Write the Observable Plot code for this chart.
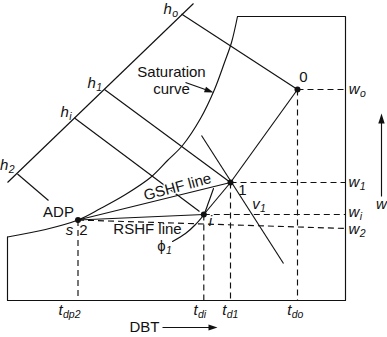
<!DOCTYPE html>
<html>
<head>
<meta charset="utf-8">
<script src="https://cdn.jsdelivr.net/npm/d3@7"></script>
<script src="https://cdn.jsdelivr.net/npm/@observablehq/plot@0.6"></script>
<style>
  html, body { margin: 0; padding: 0; background: #fff; }
</style>
</head>
<body>
<div id="chart"></div>
<script>
// Diagram units: x = DBT (from the left edge of the chart box), y = w (up from the bottom edge)
const states = [
  {name: "0", x: 290, y: 211},
  {name: "1", x: 223, y: 118},
  {name: "i", x: 196.3, y: 86},
  {name: "2", x: 70.5, y: 80.5}
];

const saturationCurve = [
  {x: 0, y: 63.5}, {x: 38, y: 71}, {x: 70.5, y: 80.5}, {x: 93, y: 92},
  {x: 118, y: 106}, {x: 143, y: 123}, {x: 160, y: 140}, {x: 175, y: 155},
  {x: 193, y: 182}, {x: 207, y: 211}, {x: 217, y: 238}, {x: 224, y: 258},
  {x: 230, y: 284}
];

const chartBox = [
  {x: 0, y: 63.5}, {x: 0, y: 0}, {x: 338, y: 0}, {x: 338, y: 284}, {x: 230, y: 284}
];

const enthalpyAxis = [{x1: 0, y1: 118, x2: 186, y2: 297}];

const enthalpyLines = [
  {name: "h_o", x1: 174, y1: 286.5, x2: 290, y2: 211},
  {name: "h_1", x1: 97, y1: 211, x2: 223, y2: 118},
  {name: "h_i", x1: 67, y1: 182.5, x2: 192, y2: 89},
  {name: "h_2", x1: 10, y1: 126.5, x2: 41, y2: 100}
];

const processLines = [
  {name: "GSHF", x1: 70.5, y1: 80.5, x2: 223, y2: 118},
  {name: "RSHF", x1: 70.5, y1: 80.5, x2: 196.3, y2: 86},
  {name: "0-1", x1: 290, y1: 211, x2: 223, y2: 118},
  {name: "1-i", x1: 223, y1: 118, x2: 196.3, y2: 86},
  {name: "v1", x1: 194, y1: 165, x2: 276, y2: 37}
];

const rhCurve = [
  {x: 165, y: 59}, {x: 178, y: 67}, {x: 188, y: 76}, {x: 196.3, y: 86},
  {x: 201, y: 98}, {x: 206, y: 112}
];

const humidityLevels = [
  {name: "w_o", x1: 290, y1: 211, x2: 338, y2: 211},
  {name: "w_1", x1: 223, y1: 118, x2: 338, y2: 118},
  {name: "w_i", x1: 196.3, y1: 86, x2: 338, y2: 86},
  {name: "w_2", x1: 70.5, y1: 80.5, x2: 338, y2: 72}
];

const dbtLevels = [
  {name: "t_dp2", x: 70.5, y: 80.5},
  {name: "t_di", x: 196.3, y: 86},
  {name: "t_d1", x: 223, y: 118},
  {name: "t_do", x: 290, y: 211}
];

const arrows = [
  {name: "saturation", x1: 178, y1: 218, x2: 206, y2: 208},
  {name: "w", x1: 374, y1: 104, x2: 374, y2: 187},
  {name: "DBT", x1: 155, y1: -27, x2: 210, y2: -27}
];

const plainLabels = [
  {text: "Saturation", x: 164, y: 228},
  {text: "curve", x: 164, y: 211},
  {text: "0", x: 296, y: 223},
  {text: "1", x: 235, y: 110},
  {text: "ADP", x: 51, y: 88},
  {text: "2", x: 76, y: 70},
  {text: "RSHF line", x: 140, y: 71},
  {text: "DBT", x: 137, y: -27}
];

const italicLabels = [
  {text: "i", x: 203, y: 79},
  {text: "s", x: 62, y: 70},
  {text: "w", x: 374, y: 96}
];

const gshfLabel = [{text: "GSHF line", x: 170, y: 113.5}];

const subscriptLabels = [
  {base: "h", sub: "o", x: 156, y: 291.5},
  {base: "h", sub: "1", x: 80, y: 217},
  {base: "h", sub: "i", x: 53, y: 188},
  {base: "h", sub: "2", x: -7.5, y: 135},
  {base: "v", sub: "1", x: 244.7, y: 96},
  {base: "\u03D5", sub: "1", x: 149.7, y: 54, upright: true},
  {base: "w", sub: "o", x: 341.3, y: 211},
  {base: "w", sub: "1", x: 341, y: 118},
  {base: "w", sub: "i", x: 341, y: 88},
  {base: "w", sub: "2", x: 341, y: 71},
  {base: "t", sub: "dp2", x: 51, y: -10},
  {base: "t", sub: "di", x: 186, y: -10},
  {base: "t", sub: "d1", x: 214.7, y: -10},
  {base: "t", sub: "do", x: 279.7, y: -10}
];

// ---------- rendering ----------
const FONT = "'Liberation Sans', Arial, Helvetica, sans-serif";
const BIG = 15, SMALL = 10.5;
const INK = "#111";
const SW = 1.15;

const canvas = document.createElement("canvas");
const ctx2 = canvas.getContext("2d");
function measure(str, italic, size) {
  ctx2.font = `${italic ? "italic " : ""}${size}px ${FONT}`;
  return ctx2.measureText(str).width;
}
const subBase = subscriptLabels.map(d => ({...d}));
const subSub = subscriptLabels.map(d => ({
  text: d.sub,
  x: d.x + measure(d.base, !d.upright, BIG) + 0.3,
  y: d.y - 4.5
}));

function arrowHead(dx, dy, len = 9, half = 3) {
  const n = Math.hypot(dx, dy), ux = dx / n, uy = dy / n, px = -uy, py = ux;
  return {
    draw(c) {
      c.moveTo(0, 0);
      c.lineTo(-ux * len + px * half, -uy * len + py * half);
      c.lineTo(-ux * len - px * half, -uy * len - py * half);
      c.closePath();
    }
  };
}

const arrowMarks = arrows.flatMap(a => {
  const dx = a.x2 - a.x1, dy = a.y2 - a.y1, n = Math.hypot(dx, dy);
  const shaft = [{x1: a.x1, y1: a.y1, x2: a.x2 - dx / n * 5, y2: a.y2 - dy / n * 5}];
  return [
    Plot.link(shaft, {x1: "x1", y1: "y1", x2: "x2", y2: "y2", stroke: INK, strokeWidth: SW}),
    Plot.dot([a], {x: "x2", y: "y2", r: 5, fill: INK, stroke: "none",
      symbol: arrowHead(dx, -dy, a.name === "w" ? 10 : 9, a.name === "w" ? 3.2 : 3)})
  ];
});

const seg = {x1: "x1", y1: "y1", x2: "x2", y2: "y2", stroke: INK, strokeWidth: SW};
const dash = {...seg, strokeDasharray: "6,4"};

const chart = Plot.plot({
  width: 387,
  height: 337,
  margin: 0,
  x: {domain: [-7, 380], range: [0, 387], axis: null},
  y: {domain: [-37, 300], range: [337, 0], axis: null},
  style: {fontFamily: FONT, background: "#fff", color: INK},
  marks: [
    // dashed level lines
    Plot.link(humidityLevels, dash),
    Plot.link(dbtLevels, {x1: "x", y1: "y", x2: "x", y2: () => 0, stroke: INK, strokeWidth: SW, strokeDasharray: "6,4"}),
    // frame and saturation curve
    Plot.line(chartBox, {x: "x", y: "y", stroke: INK, strokeWidth: SW}),
    Plot.line(saturationCurve, {x: "x", y: "y", curve: "catmull-rom", stroke: INK, strokeWidth: SW}),
    // enthalpy axis and lines
    Plot.link(enthalpyAxis, seg),
    Plot.link(enthalpyLines, seg),
    // process lines
    Plot.link(processLines, seg),
    Plot.line(rhCurve, {x: "x", y: "y", curve: "catmull-rom", stroke: INK, strokeWidth: SW}),
    ...arrowMarks,
    // state points
    Plot.dot(states, {x: "x", y: "y", r: 3, fill: INK, stroke: "none"}),
    // labels
    Plot.text(gshfLabel, {x: "x", y: "y", text: "text", rotate: -15, fontSize: BIG, fill: INK,
      stroke: "#fff", strokeWidth: 2.5}),
    Plot.text(plainLabels, {x: "x", y: "y", text: "text", fontSize: BIG, fill: INK}),
    Plot.text(italicLabels, {x: "x", y: "y", text: "text", fontSize: BIG, fontStyle: "italic", fill: INK}),
    Plot.text(subBase.filter(d => !d.upright), {x: "x", y: "y", text: "base", fontSize: BIG, fontStyle: "italic", textAnchor: "start", fill: INK}),
    Plot.text(subBase.filter(d => d.upright), {x: "x", y: "y", text: "base", fontSize: BIG, textAnchor: "start", fill: INK}),
    Plot.text(subSub, {x: "x", y: "y", text: "text", fontSize: SMALL, fontStyle: "italic", textAnchor: "start", fill: INK})
  ]
});
document.getElementById("chart").appendChild(chart);
</script>
</body>
</html>
